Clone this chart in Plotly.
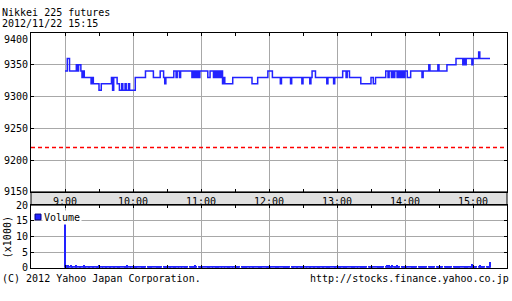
import pandas as pd
import plotly.graph_objects as go

# ---------------- data ----------------
chart_title = "Nikkei 225 futures"
chart_stamp = "2012/11/22 15:15"
copyright_text = "(C) 2012 Yahoo Japan Corporation."
url_text = "http://stocks.finance.yahoo.co.jp"
volume_label = "Volume"
volume_unit = "(x1000)"
trade_day = "2012-11-22"
session_open = "09:00"
x_range = ["08:30", "15:30"]

# price changes: minutes after 09:00 and new price
price_minutes = [0, 2, 4, 10, 11, 12, 14, 15, 16, 17, 23, 24, 25, 30, 32, 41, 42, 43, 46, 48,
                 50, 51, 53, 54, 56, 57, 62, 71, 78, 84, 87, 88, 89, 96, 98, 99, 101, 102, 112, 113,
                 114, 115, 116, 117, 118, 119, 126, 128, 131, 132, 133, 134, 135, 136, 137, 138, 139, 140, 141, 148,
                 165, 170, 179, 183, 190, 191, 199, 200, 209, 210, 216, 217, 218, 221, 231, 232, 237, 238, 245, 248,
                 249, 251, 261, 270, 272, 274, 283, 285, 286, 288, 289, 290, 291, 293, 294, 295, 296, 297, 298, 299,
                 300, 302, 305, 315, 316, 321, 322, 329, 330, 337, 345, 351, 352, 353, 354, 359, 360, 365, 366, 375]
price_values = [9340, 9360, 9340, 9350, 9340, 9350, 9340, 9330, 9340, 9330, 9320, 9330, 9320, 9310, 9320, 9330, 9310, 9330, 9320, 9310,
                9320, 9310, 9320, 9310, 9320, 9310, 9330, 9340, 9330, 9340, 9330, 9320, 9330, 9340, 9330, 9340, 9330, 9340, 9330, 9340,
                9330, 9340, 9330, 9340, 9330, 9340, 9330, 9340, 9330, 9340, 9330, 9340, 9330, 9340, 9330, 9340, 9320, 9330, 9320, 9330,
                9320, 9330, 9340, 9330, 9320, 9330, 9320, 9330, 9320, 9330, 9320, 9330, 9340, 9330, 9320, 9330, 9320, 9330, 9340, 9330,
                9340, 9330, 9320, 9330, 9320, 9330, 9340, 9330, 9340, 9330, 9340, 9330, 9340, 9330, 9340, 9330, 9340, 9330, 9340, 9330,
                9340, 9330, 9340, 9330, 9340, 9350, 9340, 9350, 9340, 9350, 9360, 9350, 9360, 9350, 9360, 9350, 9360, 9370, 9360, 9360]
prev_close = 9220

# volume per minute from 09:00 (thousands)
volume_values = [
    17, 0.9, 0.8, 0.7, 0.6, 0.7, 0.6, 0.6, 0, 0.6, 0.7, 0.6, 0.5, 0.6, 0.6, 0, 0.6, 0.7, 0.6, 0.6, 0.6, 0.5, 0.6, 0, 0.6,
    0.6, 0.6, 0.6, 0.5, 0.6, 0.7, 0.6, 0, 0.6, 0.6, 0.6, 0.6, 0.5, 0, 0.6, 0.6, 0.6, 0.6, 0.6, 0.6, 0, 0.5, 0.6, 0.6, 0.6,
    0.6, 0, 0.6, 0.6, 0.6, 0.7, 0.6, 0.6, 0.6, 0, 0.5, 0.6, 0.6, 0.6, 0.6, 0.6, 0, 0.6, 0.6, 0.6, 0.5, 0.6, 0, 0.6, 0.6,
    0.6, 0.6, 0.6, 0, 0.5, 0.6, 0.6, 0.6, 0.6, 0.6, 0.6, 0, 0.6, 0.6, 0.6, 0.5, 0, 0.6, 0.6, 0.6, 0.6, 0.6, 0.6, 0.6, 0,
    0.6, 0.6, 0.5, 0.6, 0, 0.6, 0.6, 0.6, 0.6, 0, 0.6, 0.6, 0.6, 0.6, 0.6, 0.7, 0.6, 0, 0.6, 0.6, 0.5, 0.6, 0.6, 0, 0.6,
    0.6, 0.6, 0.6, 0.6, 0, 0.6, 0.6, 0.6, 0.6, 0.6, 0.6, 0.6, 0, 0.5, 0.6, 0.6, 0.6, 0, 0.6, 0.6, 0.6, 0.6, 0.6, 0.6, 0,
    0.6, 0.6, 0.6, 0.6, 0.6, 0, 0.6, 0.6, 0.6, 0.5, 0.6, 0.6, 0.6, 0.6, 0, 0.6, 0.6, 0.6, 0, 0.6, 0.6, 0.6, 0.6, 0.6, 0.6,
    0, 0.6, 0.6, 0.6, 0.6, 0.6, 0.6, 0.6, 0, 0.6, 0.6, 0.5, 0.6, 0.6, 0.6, 0, 0.6, 0.6, 0.6, 0.6, 0.6, 0.6, 0.6, 0.6, 0,
    0.6, 0.6, 0.6, 0, 0.6, 0.6, 0.6, 0.6, 0.6, 0.6, 0.6, 0.6, 0, 0.6, 0.6, 0.6, 0.6, 0.6, 0, 0.6, 0.6, 0.6, 0.6, 0.6, 0.6,
    0.6, 0, 0.6, 0.6, 0.6, 0.6, 0.6, 0.6, 0.6, 0.6, 0, 0.6, 0.6, 0.6, 0.6, 0, 0.6, 0.6, 0.6, 0.6, 0.6, 0.6, 0.6, 0.6, 0.6,
    0, 0.6, 0.6, 0.6, 0.6, 0.6, 0.6, 0, 0.6, 0.6, 0.6, 0.6, 0.6, 0.6, 0.6, 0.6, 0.6, 0, 0.6, 0.6, 0.6, 0.6, 0.6, 0, 0.6,
    0.6, 0.6, 0.6, 0.6, 0.6, 0.6, 0.6, 0, 0.6, 0.7, 0.6, 0.7, 0.6, 0.6, 0.7, 0.6, 0.6, 0.6, 0.7, 0.6, 0.6, 0, 0.6, 0.6, 0.6,
    0.6, 0.6, 0.6, 0, 0.6, 0.6, 0.6, 0.6, 0.6, 0.6, 0.6, 0, 0.6, 0.6, 0.6, 0.6, 0.6, 0.6, 0.6, 0.6, 0, 0.6, 0.6, 0.6, 0.6,
    0.6, 0.6, 0, 0.6, 0.6, 0.6, 0.6, 0.6, 0.6, 0, 0.6, 0.6, 0.6, 0.6, 0.6, 0.6, 0.6, 0, 0.6, 0.6, 0.6, 0.6, 0.6, 0.6, 0.6,
    0.6, 0, 0.6, 0.6, 0.6, 0.6, 0.6, 0.6, 0.6, 1.0, 0.8, 0.6, 0.6, 0.6, 0, 0.6, 0.7, 0.6, 0.6, 0.6, 0.6, 0, 0.6, 0.6, 0.6,
    1.7,
]

price_ticks = [9150, 9200, 9250, 9300, 9350, 9400]
price_tick_text = ["9150", "9200", "9250", "9300", "9350", "<br>9400"]
volume_ticks = [0, 5, 10, 15, 20]
volume_tick_text = ["0", "5", "10", "15", "20"]

# ---------------- figure ----------------
W, H = 512, 301
def px(x):
    return x / W
def py(y):
    return 1 - y / H

BLUE = "#2222ff"
GRID = "#a8a8a8"
FONT = "DejaVu Sans Mono"

t0 = pd.Timestamp(f"{trade_day} {session_open}")
price_x = t0 + pd.to_timedelta(price_minutes, unit="m")
vol_x = t0 + pd.to_timedelta(list(range(len(volume_values))), unit="m")
xr = [f"{trade_day} {x_range[0]}", f"{trade_day} {x_range[1]}"]

fig = go.Figure()
fig.add_trace(go.Scatter(x=price_x, y=price_values, mode="lines", line_shape="hv",
                         line=dict(color=BLUE, width=1.5), xaxis="x", yaxis="y", showlegend=False))
fig.add_trace(go.Bar(x=vol_x, y=volume_values, width=60000, marker=dict(color=BLUE, line=dict(width=0)),
                     xaxis="x2", yaxis="y2", showlegend=False))

axis_common = dict(showline=True, linecolor="black", linewidth=1, mirror="ticks",
                   ticks="inside", ticklen=3, tickcolor="black",
                   showgrid=True, gridcolor=GRID, gridwidth=1, zeroline=False,
                   tickfont=dict(family=FONT, size=10, color="black"))

fig.update_layout(
    width=W, height=H, margin=dict(l=0, r=0, t=0, b=0),
    paper_bgcolor="white", plot_bgcolor="white",
    font=dict(family=FONT, size=10, color="black"),
    xaxis=dict(domain=[px(31), px(507)], anchor="y", type="date", range=xr,
               tick0=str(t0), dtick=3600000, tickformat="%-H:%M",
               minor=dict(dtick=1800000, ticks="inside", ticklen=3, tickcolor="black", showgrid=False),
               **axis_common),
    yaxis=dict(domain=[py(194), py(29)], anchor="x", range=[price_ticks[0], price_ticks[-1]],
               tickvals=price_ticks, ticktext=price_tick_text, **axis_common),
    xaxis2=dict(domain=[px(31), px(507)], anchor="y2", type="date", range=xr, matches="x",
                tick0=str(t0), dtick=3600000, showticklabels=False,
                minor=dict(dtick=1800000, ticks="inside", ticklen=3, tickcolor="black", showgrid=False),
                **axis_common),
    yaxis2=dict(domain=[py(272.7), py(207.7)], anchor="x2", range=[volume_ticks[0], volume_ticks[-1]],
                tickvals=volume_ticks, ticktext=volume_tick_text, **axis_common),
    bargap=0,
)

# previous close reference line
fig.add_shape(type="line", xref="paper", yref="y", x0=px(31), x1=px(507), y0=prev_close, y1=prev_close,
              line=dict(color="#ff0000", width=1.5, dash="4px,3px"))

# gray time-label band between panels
fig.add_shape(type="rect", xref="paper", yref="paper", x0=px(31), x1=px(507), y0=py(207.7), y1=py(194),
              fillcolor="#e0e0e0", line=dict(color="black", width=1), layer="below")

# legend swatch
fig.add_shape(type="rect", xref="paper", yref="paper", x0=px(35), x1=px(41), y0=py(223), y1=py(217),
              fillcolor=BLUE, line=dict(color="#000080", width=1))

annotations = [
    dict(text=chart_title, x=0, y=py(7.5), xanchor="left", yanchor="middle"),
    dict(text=chart_stamp, x=0, y=py(19.5), xanchor="left", yanchor="middle"),
    dict(text=copyright_text, x=0, y=py(283.5), xanchor="left", yanchor="middle"),
    dict(text=url_text, x=px(511), y=py(283.5), xanchor="right", yanchor="middle"),
    dict(text=volume_unit, x=px(7), y=py(241), xanchor="center", yanchor="middle", textangle=-90),
    dict(text=volume_label, x=px(42), y=py(220.5), xanchor="left", yanchor="middle",
         bgcolor="white", borderpad=1),
]
for a in annotations:
    fig.add_annotation(xref="paper", yref="paper", showarrow=False,
                       font=dict(family=FONT, size=10, color="black"), **a)

fig.write_html("out.html")
